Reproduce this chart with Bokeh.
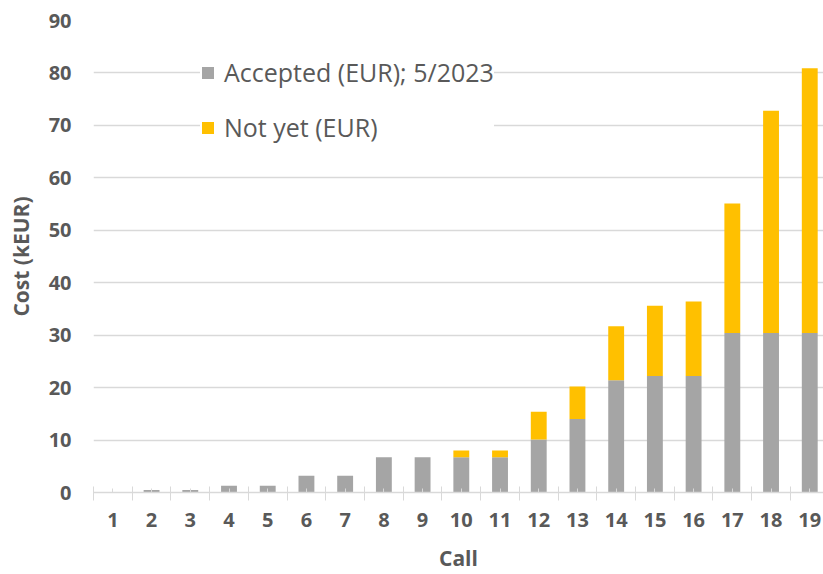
from bokeh.plotting import figure
from bokeh.models import Range1d, FixedTicker, Legend, LegendItem, ColumnDataSource
from bokeh.embed import file_html
from bokeh.resources import INLINE

calls = list(range(1, 20))
call_labels = [str(c) for c in calls]
accepted = [0, 0.5, 0.5, 1.3, 1.3, 3.2, 3.2, 6.7, 6.7, 6.7, 6.7, 10.1, 14.0, 21.4, 22.2, 22.2, 30.4, 30.4, 30.4]
not_yet = [0, 0, 0, 0, 0, 0, 0, 0, 0, 1.3, 1.3, 5.3, 6.2, 10.3, 13.4, 14.2, 24.7, 42.4, 50.5]
y_ticks = [0, 10, 20, 30, 40, 50, 60, 70, 80, 90]
series_names = ["Accepted (EUR); 5/2023", "Not yet (EUR)"]
colors = ["#a5a5a5", "#ffc000"]

src = ColumnDataSource(dict(x=calls, acc=accepted, ny=not_yet))

FONT = "Open Sans"
TXT = "#595959"

p = figure(width=823, height=574, output_backend="svg", toolbar_location=None,
           x_range=Range1d(0.5, 19.355), y_range=Range1d(0, 90),
           min_border_left=93, min_border_right=0, min_border_top=20, min_border_bottom=82)
p.outline_line_color = None

rs = p.vbar_stack(["acc", "ny"], x="x", width=0.41, source=src, color=colors, line_color=None)

# axes
p.xaxis.ticker = FixedTicker(ticks=calls, minor_ticks=[c + 0.5 for c in range(0, 20)])
p.xaxis.major_label_overrides = {c: l for c, l in zip(calls, call_labels)}
p.xaxis.axis_line_color = "#d9d9d9"
p.xaxis.axis_line_width = 1.5
p.xaxis.major_tick_line_color = "#d9d9d9"
p.xaxis.major_tick_in = 4
p.xaxis.major_tick_out = 0
p.xaxis.minor_tick_line_color = "#d9d9d9"
p.xaxis.minor_tick_in = 6
p.xaxis.minor_tick_out = 8
p.xaxis.major_label_standoff = 12
p.xaxis.axis_label = "Call"
p.xaxis.axis_label_standoff = 14

p.yaxis.ticker = FixedTicker(ticks=y_ticks)
p.yaxis.axis_line_color = None
p.yaxis.major_tick_line_color = None
p.yaxis.minor_tick_line_color = None
p.yaxis.major_tick_out = 0
p.yaxis.major_tick_in = 0
p.yaxis.minor_tick_out = 0
p.yaxis.minor_tick_in = 0
p.yaxis.major_label_standoff = 22
p.yaxis.axis_label = "Cost (kEUR)"
p.yaxis.axis_label_standoff = 11

for ax in [p.xaxis[0], p.yaxis[0]]:
    ax.major_label_text_font = FONT
    ax.major_label_text_font_style = "bold"
    ax.major_label_text_font_size = "20px"
    ax.major_label_text_color = TXT
    ax.axis_label_text_font = FONT
    ax.axis_label_text_font_style = "bold"
    ax.axis_label_text_font_size = "21px"
    ax.axis_label_text_color = TXT

p.xgrid.grid_line_color = None
p.ygrid.grid_line_color = "#d9d9d9"
p.ygrid.grid_line_width = 1.5

legend = Legend(items=[LegendItem(label=series_names[0], renderers=[rs[0]]),
                       LegendItem(label=series_names[1], renderers=[rs[1]])],
                location=(107, 348), orientation="vertical",
                glyph_width=15, glyph_height=15, label_height=34, spacing=21,
                label_standoff=9, padding=12, margin=0,
                label_text_font=FONT, label_text_font_size="25px", label_text_color=TXT,
                border_line_color=None, background_fill_color="white", background_fill_alpha=1.0)
p.add_layout(legend, "center")

open("out.html", "w").write(file_html(p, INLINE))
